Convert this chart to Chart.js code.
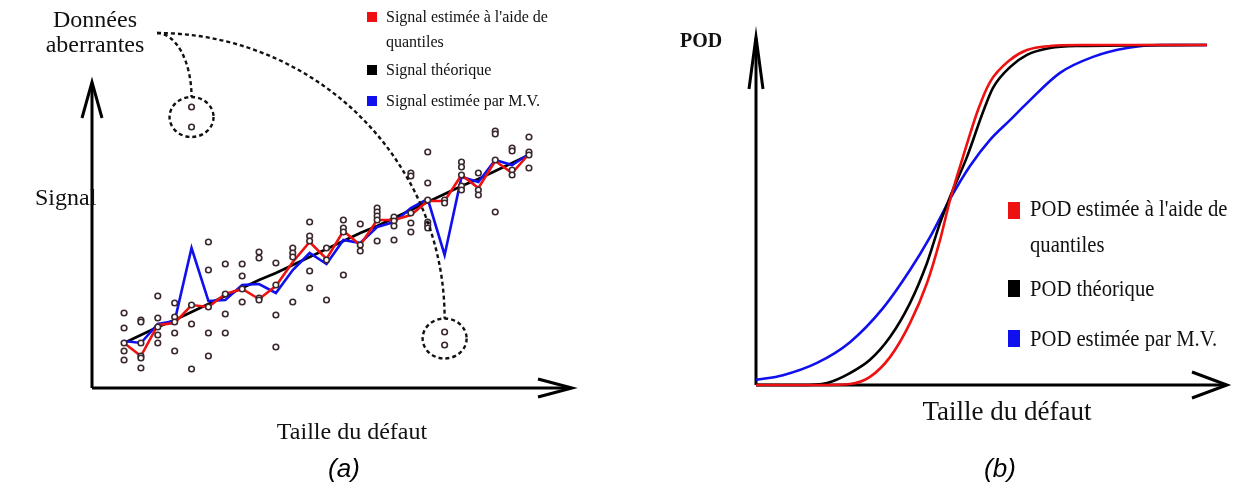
<!DOCTYPE html>
<html>
<head>
<meta charset="utf-8">
<script src="https://cdn.jsdelivr.net/npm/chart.js@4.4.1/dist/chart.umd.min.js"></script>
<style>
  html, body { margin: 0; padding: 0; background: #fff; width: 1236px; height: 488px; overflow: hidden; position: relative; }
  canvas { position: absolute; top: 0; }
  .t { position: absolute; font-family: "Liberation Serif", "Times New Roman", serif; color: #111; white-space: nowrap; line-height: 1; }
  .c { transform: translateX(-50%); }
  .n { transform: scaleX(0.86); transform-origin: 0 50%; }
  .cap { position: absolute; font-family: "Liberation Sans", Arial, sans-serif; font-style: italic; font-size: 26px; line-height: 1; transform: translateX(-50%); color: #000; }
  .sq { position: absolute; }
</style>
</head>
<body>
<canvas id="chartA" width="618" height="488" style="left:0"></canvas>
<canvas id="chartB" width="618" height="488" style="left:618px"></canvas>

<!-- panel (a) texts -->
<div class="t c" style="left:95px;top:7px;font-size:24px">Données</div>
<div class="t c" style="left:95px;top:32px;font-size:24px">aberrantes</div>
<div class="t" style="left:35px;top:185px;font-size:24px">Signal</div>
<div class="t c" style="left:352px;top:419px;font-size:24px">Taille du défaut</div>
<div class="cap" style="left:344px;top:455px">(a)</div>

<div class="sq" style="left:367px;top:12px;width:10px;height:10px;background:#ee1111"></div>
<div class="t" style="left:386px;top:9px;font-size:16px">Signal estimée à l'aide de</div>
<div class="t" style="left:386px;top:34px;font-size:16px">quantiles</div>
<div class="sq" style="left:367px;top:65px;width:10px;height:10px;background:#000"></div>
<div class="t" style="left:386px;top:62px;font-size:16px">Signal théorique</div>
<div class="sq" style="left:367px;top:96px;width:10px;height:10px;background:#1010ee"></div>
<div class="t" style="left:386px;top:93px;font-size:16px">Signal estimée par M.V.</div>

<!-- panel (b) texts -->
<div class="t" style="left:680px;top:30px;font-size:20px;font-weight:bold">POD</div>
<div class="t c" style="left:1007px;top:398px;font-size:27px">Taille du défaut</div>
<div class="cap" style="left:1000px;top:455px">(b)</div>

<div class="sq" style="left:1008px;top:202px;width:12px;height:17px;background:#ee1111"></div>
<div class="t n" style="left:1030px;top:196px;font-size:24px">POD estimée à l'aide de</div>
<div class="t n" style="left:1030px;top:232px;font-size:24px">quantiles</div>
<div class="sq" style="left:1008px;top:280px;width:12px;height:17px;background:#000"></div>
<div class="t n" style="left:1030px;top:276px;font-size:24px">POD théorique</div>
<div class="sq" style="left:1008px;top:330px;width:12px;height:17px;background:#1010ee"></div>
<div class="t n" style="left:1030px;top:326px;font-size:24px">POD estimée par M.V.</div>

<script>
// ---- panel (a): signal vs defect size ----
const tailleIdx = [0, 1, 2, 3, 4, 5, 6, 7, 8, 9, 10, 11, 12, 13, 14, 15, 16, 17, 18, 19, 20, 21, 22, 23, 24];

// measured signal values for each defect size (one list per column)
const mesures = [
  [7.5, 6.0, 4.5, 3.7, 2.8],
  [6.8, 6.6, 4.5, 3.2, 3.0, 2.0],
  [9.2, 7.0, 6.1, 5.3, 4.5],
  [8.5, 7.1, 6.6, 5.5, 3.7],
  [8.3, 6.4, 1.9],
  [14.6, 11.8, 8.1, 5.5, 3.2],
  [12.4, 9.4, 7.4, 5.5],
  [12.4, 11.2, 9.9, 8.6],
  [13.6, 13.0, 9.0, 8.8],
  [12.5, 10.3, 7.3, 4.1],
  [14.0, 13.5, 13.1, 8.6],
  [16.6, 15.2, 14.7, 11.7, 10.0],
  [14.0, 12.8, 8.8],
  [16.8, 16.0, 15.6, 11.3],
  [16.4, 14.3, 13.7],
  [18.0, 17.6, 17.2, 16.8, 14.7],
  [17.1, 16.7, 16.2, 14.8],
  [21.5, 21.2, 17.5, 16.5, 15.6],
  [23.6, 20.5, 18.8, 16.6, 16.3, 16.0],
  [18.8, 18.5],
  [22.6, 22.1, 21.3, 20.2, 19.8],
  [21.5, 19.8, 19.3],
  [25.7, 25.4, 22.8, 17.6],
  [24.0, 23.7, 21.8, 21.3],
  [25.1, 23.6, 23.3, 22.0]
];

// outliers: [defect index, signal]
const donneesAberrantes = [[4, 28.1], [4, 26.1], [19, 5.6], [19, 4.3]];

const signalTheorique = [4.5, 5.3, 6.1, 6.8, 7.6, 8.4, 9.2, 10.0, 10.8, 11.5, 12.3, 13.1, 13.9,
  14.7, 15.5, 16.2, 17.0, 17.8, 18.6, 19.4, 20.2, 20.9, 21.7, 22.5, 23.3];
const signalQuantiles = [4.5, 3.2, 6.3, 6.5, 8.3, 8.1, 9.4, 9.9, 8.9, 10.2, 12.6, 14.6, 12.9,
  15.7, 14.3, 16.8, 16.8, 17.3, 18.7, 18.7, 21.3, 20.0, 22.7, 21.5, 23.4];
const signalMV = [4.7, 4.5, 6.4, 6.7, 14.0, 8.7, 8.8, 10.3, 10.4, 9.5, 11.8, 13.5, 12.4,
  14.8, 14.5, 16.1, 16.6, 18.0, 18.9, 13.3, 21.1, 20.6, 22.8, 22.3, 23.4];

// ---- panel (b): POD curves ----
const tailleTheo = [0, 4.4, 7.1, 9.4, 11.4, 13.4, 15.4, 17.1, 18.4, 19.4, 21.1, 22.7, 23.7, 25.4, 27.1, 29.4, 32.1, 45.1];
const podTheo    = [0, 0, 0.006, 0.035, 0.074, 0.141, 0.241, 0.359, 0.476, 0.553, 0.671, 0.803, 0.874, 0.935, 0.971, 0.991, 0.997, 1.0];
const tailleQuant = [0, 6.4, 9.4, 11.4, 13.4, 15.4, 17.1, 18.4, 19.4, 20.7, 22.2, 23.4, 25.4, 27.1, 29.4, 32.4, 45.1];
const podQuant    = [0, 0, 0.003, 0.024, 0.082, 0.182, 0.300, 0.426, 0.544, 0.671, 0.809, 0.891, 0.956, 0.985, 0.997, 1.0, 1.0];
const tailleMV = [0, 2.7, 6.1, 9.4, 12.7, 15.4, 17.4, 19.4, 21.4, 23.4, 25.4, 27.1, 30.4, 33.7, 37.1, 40.4, 45.1];
const podMV    = [0.015, 0.029, 0.065, 0.126, 0.226, 0.338, 0.435, 0.547, 0.644, 0.721, 0.779, 0.829, 0.918, 0.965, 0.991, 1.0, 1.0];

const RED = '#ee1111';
const BLUE = '#1010ee';
const BLACK = '#000000';

function zip(xs, ys) {
  return xs.map((x, i) => ({ x: x, y: ys[i] }));
}

// axes with open arrow heads, drawn from the chart area
function arrowAxes(o) {
  return {
    id: 'arrowAxes',
    beforeDatasetsDraw(chart) {
      const { ctx, chartArea: a } = chart;
      ctx.save();
      ctx.strokeStyle = '#000';
      ctx.lineWidth = o.lw;
      ctx.beginPath();
      ctx.moveTo(a.left, a.bottom);
      ctx.lineTo(a.left, a.top + 1);
      ctx.moveTo(a.left, a.bottom);
      ctx.lineTo(a.right - 1, a.bottom);
      ctx.stroke();
      ctx.beginPath();
      ctx.moveTo(a.left - o.yw, a.top + o.yl);
      ctx.lineTo(a.left, a.top);
      ctx.lineTo(a.left + o.yw, a.top + o.yl);
      ctx.moveTo(a.right - o.xl, a.bottom - o.xw);
      ctx.lineTo(a.right, a.bottom);
      ctx.lineTo(a.right - o.xl, a.bottom + o.xw);
      ctx.stroke();
      ctx.restore();
    }
  };
}

// dashed rings around the outliers + connectors to the label
const aberrantesPlugin = {
  id: 'aberrantes',
  afterDatasetsDraw(chart) {
    const { ctx, scales: { x, y } } = chart;
    const anchor = { x: 157, y: 33 };
    const groups = {};
    donneesAberrantes.forEach(([k, v]) => {
      (groups[k] = groups[k] || []).push(y.getPixelForValue(v));
    });
    ctx.save();
    ctx.strokeStyle = '#111';
    ctx.lineWidth = 2.4;
    ctx.setLineDash([4, 3]);
    Object.keys(groups).forEach(k => {
      const ys = groups[k];
      const cx = x.getPixelForValue(+k);
      const cy = ys.reduce((s, v) => s + v, 0) / ys.length;
      const rx = 22, ry = 20;
      ctx.beginPath();
      ctx.ellipse(cx, cy, rx, ry, 0, 0, Math.PI * 2);
      ctx.stroke();
      const top = { x: cx, y: cy - ry };
      ctx.beginPath();
      ctx.ellipse(anchor.x, top.y, top.x - anchor.x, top.y - anchor.y, 0, -Math.PI / 2, 0);
      ctx.stroke();
    });
    ctx.restore();
  }
};

const points = [];
mesures.forEach((col, i) => col.forEach(v => points.push({ x: tailleIdx[i], y: v })));
donneesAberrantes.forEach(([k, v]) => points.push({ x: k, y: v }));

function lineSet(data, color, order) {
  return {
    type: 'line',
    data: data,
    borderColor: color,
    backgroundColor: color,
    borderWidth: 2.6,
    pointRadius: 0,
    tension: 0,
    order: order,
    clip: false
  };
}

new Chart(document.getElementById('chartA'), {
  type: 'scatter',
  data: {
    datasets: [
      {
        data: points,
        pointRadius: 2.8,
        pointBorderWidth: 1.6,
        borderColor: '#3a282c',
        backgroundColor: '#ffffff',
        order: 0,
        clip: false
      },
      lineSet(zip(tailleIdx, signalQuantiles), RED, 1),
      lineSet(zip(tailleIdx, signalMV), BLUE, 2),
      lineSet(zip(tailleIdx, signalTheorique), BLACK, 3)
    ]
  },
  options: {
    responsive: false,
    animation: false,
    layout: { padding: { left: 92, right: 46, top: 82, bottom: 100 } },
    scales: {
      x: { type: 'linear', display: false, min: -1.9, max: 26.55 },
      y: { type: 'linear', display: false, min: 0, max: 30.6 }
    },
    plugins: { legend: { display: false }, tooltip: { enabled: false } }
  },
  plugins: [arrowAxes({ lw: 3, yw: 10, yl: 36, xw: 9, xl: 34 }), aberrantesPlugin]
});

function podSet(xs, ys, color, order) {
  return {
    data: zip(xs, ys),
    borderColor: color,
    backgroundColor: color,
    borderWidth: 2.6,
    pointRadius: 0,
    cubicInterpolationMode: 'monotone',
    order: order,
    clip: false
  };
}

new Chart(document.getElementById('chartB'), {
  type: 'line',
  data: {
    datasets: [
      podSet(tailleQuant, podQuant, RED, 1),
      podSet(tailleTheo, podTheo, BLACK, 2),
      podSet(tailleMV, podMV, BLUE, 3)
    ]
  },
  options: {
    responsive: false,
    animation: false,
    layout: { padding: { left: 138, right: 9, top: 37, bottom: 103 } },
    scales: {
      x: { type: 'linear', display: false, min: 0, max: 47.1 },
      y: { type: 'linear', display: false, min: 0, max: 1.0235 }
    },
    plugins: { legend: { display: false }, tooltip: { enabled: false } }
  },
  plugins: [arrowAxes({ lw: 3, yw: 7, yl: 52, xw: 13, xl: 35 })]
});
</script>
</body>
</html>
